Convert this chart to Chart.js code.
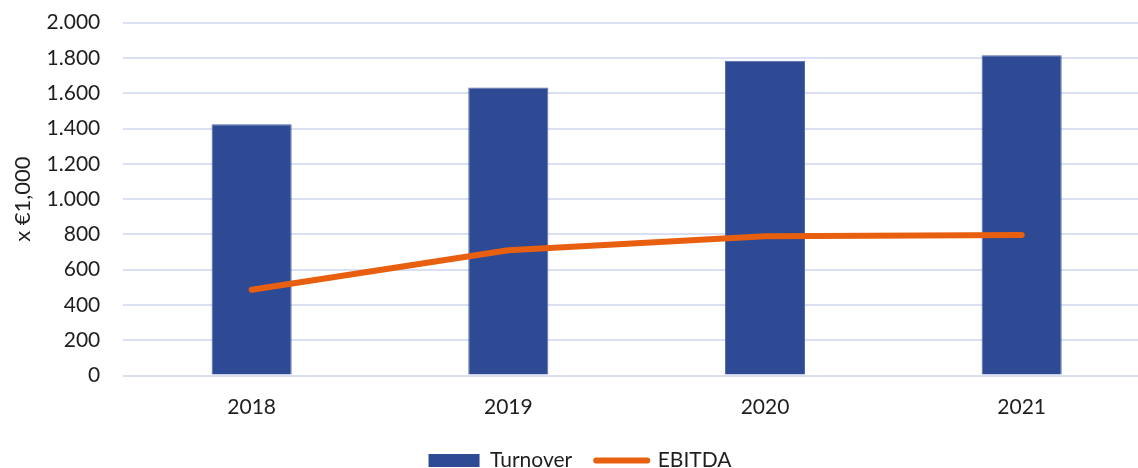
<!DOCTYPE html>
<html>
<head>
<meta charset="utf-8">
<script src="https://cdn.jsdelivr.net/npm/chart.js@4.4.1/dist/chart.umd.min.js"></script>
<style>
  html, body { margin: 0; padding: 0; background: #ffffff; overflow: hidden; }
  #wrap { position: relative; width: 1160px; height: 481px; }
</style>
</head>
<body>
<div id="wrap"><canvas id="c"></canvas></div>
<script>
const years = ['2018', '2019', '2020', '2021'];
const turnover = [1425, 1632, 1784, 1815];
const ebitda = [486, 710, 790, 796];
const yTicks = [0, 200, 400, 600, 800, 1000, 1200, 1400, 1600, 1800, 2000];

const FONT = 'Lato, "Open Sans", sans-serif';
const TXT = '#1f1f1f';
const fmt = v => String(v).replace(/\B(?=(\d{3})+(?!\d))/g, '.');

new Chart(document.getElementById('c'), {
  data: {
    labels: years,
    datasets: [
      {
        type: 'bar',
        label: 'Turnover',
        data: turnover,
        backgroundColor: '#2E4A94',
        borderColor: '#5068A8',
        borderWidth: 1,
        barPercentage: 1,
        categoryPercentage: 0.312,
        order: 1
      },
      {
        type: 'line',
        label: 'EBITDA',
        data: ebitda,
        borderColor: '#E8600F',
        backgroundColor: '#E8600F',
        borderWidth: 6,
        borderCapStyle: 'round',
        borderJoinStyle: 'round',
        pointRadius: 0,
        pointHoverRadius: 0,
        tension: 0,
        fill: false,
        order: 0
      }
    ]
  },
  options: {
    responsive: true,
    maintainAspectRatio: false,
    animation: false,
    events: [],
    layout: { padding: { left: 10, right: 10, top: 22.7, bottom: 0 } },
    plugins: {
      tooltip: { enabled: false },
      legend: {
        position: 'bottom',
        align: 'center',
        labels: {
          usePointStyle: true,
          pointStyleWidth: 51,
          boxHeight: 13,
          padding: 24,
          color: TXT,
          font: { family: FONT, size: 21 },
          sort: (a, b) => a.datasetIndex - b.datasetIndex,
          generateLabels: (chart) => {
            const items = Chart.defaults.plugins.legend.labels.generateLabels(chart);
            items.forEach(it => {
              if (it.text === 'Turnover') { it.pointStyle = 'rect'; it.lineWidth = 0; }
              else { it.pointStyle = 'line'; it.lineWidth = 6; it.lineCap = 'round'; }
            });
            return items;
          }
        }
      }
    },
    scales: {
      x: {
        offset: true,
        grid: { display: false, drawTicks: false },
        border: { display: false },
        ticks: { color: TXT, font: { family: FONT, size: 21 }, padding: 19, maxRotation: 0 },
        afterFit: (s) => { s.height = 50.5; }
      },
      y: {
        min: 0,
        max: 2000,
        afterBuildTicks: (s) => { s.ticks = yTicks.map(v => ({ value: v })); },
        grid: { color: '#DADFF1', lineWidth: 2, drawTicks: true, tickLength: 23, tickColor: 'rgba(0,0,0,0)' },
        border: { display: false },
        ticks: {
          color: TXT,
          font: { family: FONT, size: 21 },
          padding: 0,
          callback: (v) => fmt(v)
        },
        title: {
          display: true,
          text: 'x €1,000',
          color: TXT,
          font: { family: FONT, size: 22 },
          padding: { top: 0, bottom: 0 }
        },
        afterFit: (s) => { s.width = 113.3; }
      }
    }
  }
});
</script>
</body>
</html>
